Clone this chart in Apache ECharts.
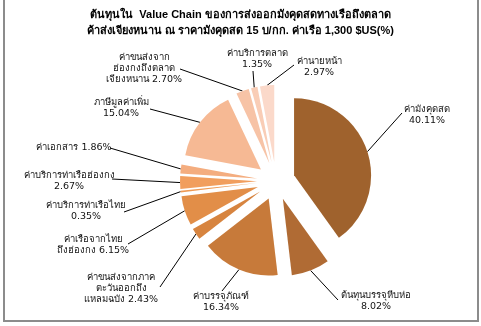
<!DOCTYPE html>
<html>
<head>
<meta charset="utf-8">
<style>
html,body{margin:0;padding:0;background:#fff;}
#chart{width:481px;height:326px;}
</style>
<script src="https://cdn.jsdelivr.net/npm/echarts@6/dist/echarts.min.js"></script>
</head>
<body>
<div id="chart"></div>
<script>
var categories = [
  'ค่ามังคุดสด',
  'ต้นทุนบรรจุหีบห่อ',
  'ค่าบรรจุภัณฑ์',
  'ค่าขนส่งจากภาคตะวันออกถึงแหลมฉบัง',
  'ค่าเรือจากไทยถึงฮ่องกง',
  'ค่าบริการท่าเรือไทย',
  'ค่าบริการท่าเรือฮ่องกง',
  'ค่าเอกสาร',
  'ภาษีมูลค่าเพิ่ม',
  'ค่าขนส่งจากฮ่องกงถึงตลาดเจียงหนาน',
  'ค่าบริการตลาด',
  'ค่านายหน้า'
];
var values = [40.11, 8.02, 16.34, 2.43, 6.15, 0.35, 2.67, 1.86, 15.04, 2.70, 1.35, 2.97];
// how Excel wrapped each label ({v} = value)
var labelWraps = [
  'ค่ามังคุดสด\n{v}%',
  'ต้นทุนบรรจุหีบห่อ\n{v}%',
  'ค่าบรรจุภัณฑ์\n{v}%',
  'ค่าขนส่งจากภาค\nตะวันออกถึง\nแหลมฉบัง {v}%',
  'ค่าเรือจากไทย\nถึงฮ่องกง {v}%',
  'ค่าบริการท่าเรือไทย\n{v}%',
  'ค่าบริการท่าเรือฮ่องกง\n{v}%',
  'ค่าเอกสาร {v}%',
  'ภาษีมูลค่าเพิ่ม\n{v}%',
  'ค่าขนส่งจาก\nฮ่องกงถึงตลาด\nเจียงหนาน {v}%',
  'ค่าบริการตลาด\n{v}%',
  'ค่านายหน้า\n{v}%'
];
var colors = ['#9F622D','#B06B34','#C77A3A','#D7843F','#E28E48','#EE9A55','#F19E5E','#F4AD7F','#F6B994','#F7C3A6','#F9CDB6','#FBD9CA'];
var titleLines = ['ต้นทุนใน  Value Chain ของการส่งออกมังคุดสดทางเรือถึงตลาด', 'ค้าส่งเจียงหนาน ณ ราคามังคุดสด 15 บ/กก. ค่าเรือ 1,300 $US(%)'];

// label layout (label centre, leader elbow)
var labelCenters = [[427,115],[376,301],[221,302],[121,289],[93,245],[86,211],[69,181],[74,148],[121,108],[144,69],[257,59],[319,67]];
var labelElbows = [[402,113],[338,300],[222,291],[160,287],[128,244],[124,212],[112,179],[110,148],[150,109],[180,69],[253,71],[294,65]];

var PIE_CENTER = [276, 181], PIE_R = 77, EXPLODE = 19;

var chart = echarts.init(document.getElementById('chart'), null, {renderer:'canvas'});
var FONT = 'Tahoma, "DejaVu Sans", "Noto Sans", sans-serif';
var TFONT = '"Liberation Sans", Arial, sans-serif';
var pieData = categories.map(function (c, i) {
  return {name: c, value: values[i], selected: true, itemStyle: {color: colors[i]}};
});
var labelData = categories.map(function (c, i) {
  return {name: c, value: values[i]};
});
chart.setOption({
  animation: false,
  title: {
    text: titleLines.join('\n'),
    left: 'center', top: 2,
    textStyle: {fontSize: 11, fontWeight: 'bold', color: '#000', fontFamily: TFONT, lineHeight: 16}
  },
  graphic: [{type:'rect', shape:{x:4, y:-4, width:474, height:325}, style:{fill:'none', stroke:'#8c8c8c', lineWidth:2}, silent:true}],
  series: [{
    type: 'pie',
    center: PIE_CENTER,
    radius: PIE_R,
    startAngle: 90,
    clockwise: true,
    selectedMode: 'multiple',
    selectedOffset: EXPLODE,
    avoidLabelOverlap: false,
    emphasis: {disabled: true, scale: false},
    label: {show: false},
    labelLine: {show: false},
    silent: true,
    data: pieData
  }, {
    // transparent twin reaching the exploded rim, carries the labels
    type: 'pie',
    center: PIE_CENTER,
    radius: PIE_R + EXPLODE,
    startAngle: 90,
    clockwise: true,
    silent: true,
    z: 1,
    avoidLabelOverlap: false,
    emphasis: {disabled: true, scale: false},
    itemStyle: {color: 'rgba(0,0,0,0)'},
    label: {
      show: true,
      position: 'outside',
      fontSize: 9.5,
      lineHeight: 11,
      color: '#111',
      fontFamily: FONT,
      align: 'center',
      formatter: function (p) { return labelWraps[p.dataIndex].replace('{v}', values[p.dataIndex].toFixed(2)); }
    },
    labelLine: {show: true, lineStyle: {color: '#000', width: 1}},
    labelLayout: function (p) {
      var i = p.dataIndex;
      var pts = p.labelLinePoints;
      return {
        x: labelCenters[i][0], y: labelCenters[i][1],
        align: 'center', verticalAlign: 'middle',
        labelLinePoints: [pts[0], labelElbows[i], labelElbows[i]]
      };
    },
    data: labelData
  }]
});
</script>
</body>
</html>
